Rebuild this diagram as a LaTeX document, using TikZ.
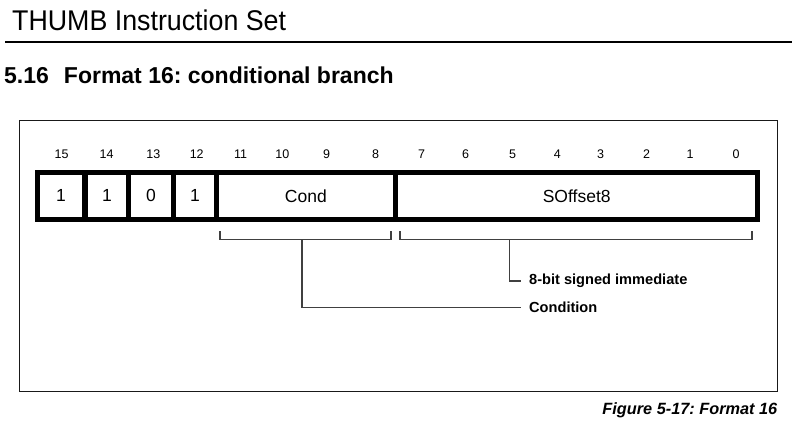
\documentclass[tikz,border=0pt]{standalone}
\usepackage{fontspec}
\setmainfont{Liberation Sans}
\frenchspacing
\begin{document}
\begin{tikzpicture}[x=1pt,y=-1pt,
  bitnum/.style={font=\fontsize{12.5}{14}\selectfont, inner sep=0pt, anchor=center},
  cell/.style={fill=white, inner sep=0pt, minimum height=41.7pt, font=\fontsize{17.5}{20}\selectfont},
  brace/.style={draw=black!75, line width=1.2pt},
  callout/.style={font=\bfseries\fontsize{14.6}{17}\selectfont, inner sep=0pt, anchor=west}]
\useasboundingbox (0,0) rectangle (792,425);

% page header
\node[anchor=base west, inner sep=0pt, font=\fontsize{28.5}{32}\selectfont, xscale=0.94] (title) at (12,31) {THUMB Instruction Set};
\draw[line width=2pt] (5,41.6) -- (792,41.6);
\node[anchor=base west, inner sep=0pt, font=\bfseries\fontsize{23}{26}\selectfont] (section) at (4,83.3) {5.16\hspace{15pt}Format 16: conditional branch};

% figure frame
\draw[line width=1.6pt, draw=black!90] (19.5,120.5) rectangle (777.5,391.5);

% bit numbers
\foreach \b/\x in {15/61.7,14/106.7,13/153.3,12/196.7,11/240.7,10/282.3,9/326.7,8/375.7,7/421.7,6/465.7,5/512.7,4/557.3,3/600.7,2/646.7,1/690,0/736}
  \node[bitnum] (bit\b) at (\x,154.3) {\b};

% instruction word
\fill[black] (35,170) rectangle (760,222);
\node[cell, minimum width=42pt]    (c15)  at (61,195.9)    {1};
\node[cell, minimum width=38pt]    (c14)  at (107,195.9)   {1};
\node[cell, minimum width=39.7pt]  (c13)  at (150.9,195.9) {0};
\node[cell, minimum width=38pt]    (c12)  at (195,195.9)   {1};
\node[cell, minimum width=173.7pt] (cond) at (305.9,195.9) {Cond};
\node[cell, minimum width=356.7pt] (soff) at (576.7,195.9) {SOffset8};

% field brackets
\draw[brace] (220,231) -- (220,239.5) -- (391,239.5) -- (391,231);
\draw[brace] (400,231) -- (400,239.5) -- (752,239.5) -- (752,231);
\coordinate (condtap) at (302,239.5);
\coordinate (sofftap) at (509.5,239.5);

% callouts
\node[callout] (immlabel)  at (529,281)   {8-bit signed immediate};
\node[callout] (condlabel) at (529,307.5) {Condition};
\draw[brace] (sofftap) |- ([xshift=-8pt]immlabel.west);
\draw[brace] (condtap) |- ([xshift=-8pt]condlabel.west);

% caption
\node[anchor=east, inner sep=0pt, font=\bfseries\itshape\fontsize{16.3}{19}\selectfont] (caption) at (777.5,410) {Figure 5-17: Format 16};
\end{tikzpicture}
\end{document}
